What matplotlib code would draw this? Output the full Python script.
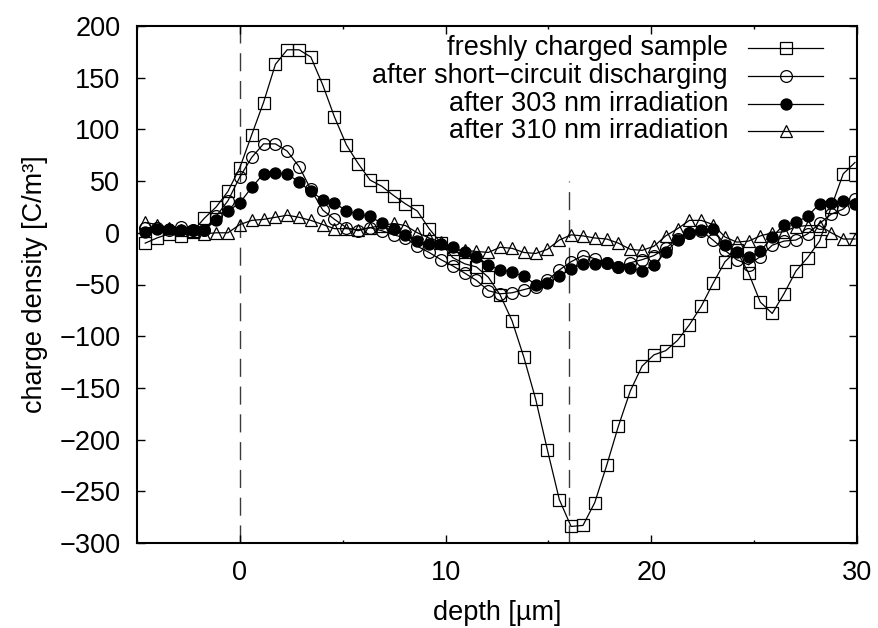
import matplotlib
matplotlib.use("Agg")
import matplotlib.pyplot as plt
from matplotlib.ticker import MultipleLocator

plt.rcParams['font.family'] = ['Liberation Sans', 'DejaVu Sans']
plt.rcParams['font.size'] = 19.5

# depth positions of the measured profile [µm]
depth = [-4.60, -4.03, -3.45, -2.88, -2.30, -1.73, -1.15, -0.58,
         0.00, 0.58, 1.15, 1.73, 2.30, 2.88, 3.45, 4.03, 4.60, 5.18,
         5.75, 6.33, 6.90, 7.48, 8.05, 8.63, 9.20, 9.78, 10.35, 10.93,
         11.50, 12.08, 12.65, 13.23, 13.80, 14.38, 14.95, 15.53, 16.10, 16.68,
         17.25, 17.83, 18.40, 18.98, 19.55, 20.13, 20.70, 21.28, 21.85, 22.43,
         23.00, 23.58, 24.15, 24.73, 25.30, 25.88, 26.45, 27.03, 27.60, 28.18,
         28.75, 29.33, 29.90]

# charge density [C/m³]
fresh = [-10, -5, -1, -3, 1, 14, 25, 40,
         63, 95, 126, 163, 177, 177, 170, 143, 112, 85,
         67, 51, 45, 36, 28, 21, 4, -10, -24, -30,
         -33, -43, -60, -85, -120, -161, -210, -258, -284, -283,
         -261, -225, -187, -153, -129, -118, -114, -104, -89, -71,
         -49, -28, -17, -39, -67, -78, -59, -37, -24, -8,
         25, 57, 68]

short_circuit = [5, 5, 3, 6, 3, 3, 16, 31,
                 54, 73, 86, 86, 79, 64, 42, 22, 13, 5,
                 2, 5, 2, -2, -5, -13, -19, -26, -32, -39,
                 -46, -56, -59, -58, -55, -52, -46, -36, -28, -22,
                 -25, -29, -33, -29, -26, -22, -15, -6, 0, 2,
                 -7, -17, -26, -31, -23, -12, -8, -7, -1, 9,
                 18, 23, 33]

irr_303 = [1, 4, 4, 3, 3, 3, 12, 21,
           29, 44, 57, 58, 57, 49, 40, 32, 29, 21,
           18, 16, 9, 4, -2, -8, -11, -11, -14, -19,
           -23, -31, -36, -38, -42, -50, -49, -42, -35, -30,
           -30, -29, -33, -34, -37, -31, -19, -7, 0, 3,
           4, -12, -19, -23, -18, -4, 8, 10, 16, 28,
           29, 31, 28]

irr_310 = [10, 8, 5, 3, 2, -1, 0, 0,
           8, 12, 13, 15, 17, 15, 12, 8, 4, 4,
           3, 5, 7, 9, 7, 0, -5, -9, -16, -17,
           -18, -19, -14, -15, -19, -20, -16, -7, -2, -3,
           -5, -6, -10, -16, -17, -13, -3, 4, 12, 12,
           8, -4, -9, -8, -3, 0, 1, 6, 7, 7,
           0, -6, -6]

labels = ["freshly charged sample",
          "after short\u2212circuit discharging",
          "after 303 nm irradiation",
          "after 310 nm irradiation"]

# electrode / layer boundaries
surface_depth = 0
interface_depth = 16
interface_top = 50

fig = plt.figure(figsize=(8.79, 6.28), dpi=100)
ax = fig.add_axes([137 / 879, 1 - 543 / 628, 720 / 879, 517 / 628])

dash_style = dict(color='#3a3a3a', lw=1.0, linestyle=(0, (13, 7)))
ax.axvline(surface_depth, zorder=1, **dash_style)
ax.vlines(interface_depth, -300, interface_top, zorder=1, **dash_style)

series = [fresh, short_circuit, irr_303, irr_310]
styles = [dict(marker='s', ms=8, mfc='none'),
          dict(marker='o', ms=8.5, mfc='none'),
          dict(marker='o', ms=8, mfc='black'),
          dict(marker='^', ms=8, mfc='none')]

for i, (vals, st) in enumerate(zip(series, styles)):
    ax.plot(depth, vals, color='black', lw=0.9, mec='black', mew=0.9,
            zorder=2 + i, **st)

# key, gnuplot style: right-aligned text followed by the sample
key_rows = [0.958, 0.903, 0.849, 0.797]
for lab, st, yk in zip(labels, styles, key_rows):
    ax.text(0.821, yk, lab, transform=ax.transAxes, ha='right', va='center')
    ax.plot([0.849, 0.953], [yk, yk], transform=ax.transAxes,
            color='black', lw=0.9)
    ax.plot([0.901], [yk], transform=ax.transAxes, ls='none', mec='black',
            mew=0.9, color='black', **st)

ax.set_xlim(-5, 30)
ax.set_ylim(-300, 200)
ax.set_xticks([0, 10, 20, 30])
ax.xaxis.set_minor_locator(MultipleLocator(5))
ax.yaxis.set_major_locator(MultipleLocator(50))

ax.tick_params(which='both', direction='in', top=True, right=True)
ax.tick_params(which='major', length=5.5, width=1.0)
ax.tick_params(which='minor', length=2.5, width=1.0)
ax.tick_params(axis='y', pad=12)
ax.tick_params(axis='x', pad=12)
for sp in ax.spines.values():
    sp.set_linewidth(1.5)

ax.set_xlabel("depth [µm]", labelpad=10)
ax.set_ylabel("charge density [C/m³]", labelpad=8)

fig.savefig("out.png", dpi=100)
